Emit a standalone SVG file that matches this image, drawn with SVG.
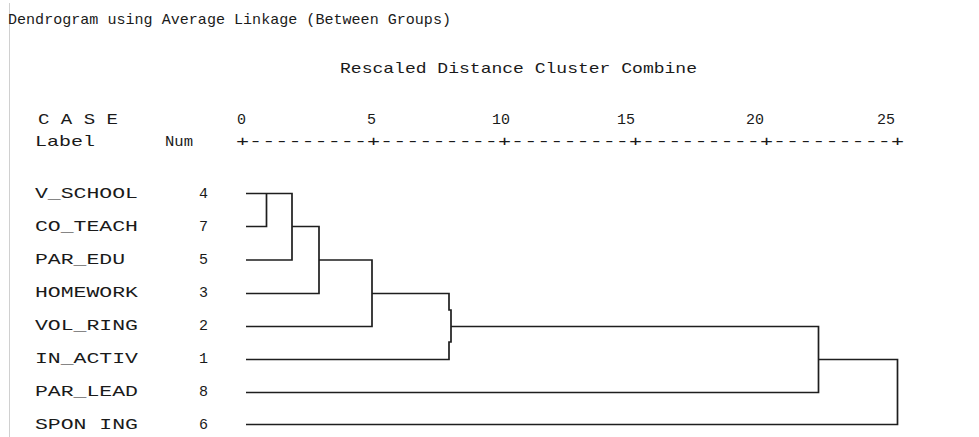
<svg xmlns="http://www.w3.org/2000/svg" width="979" height="437" viewBox="0 0 979 437">
<style>
text{font-family:"Liberation Mono","DejaVu Sans Mono",monospace;font-size:15px;fill:#1a1a1a}
.ln{fill:none;stroke:#1e1e1e;stroke-width:1.7;stroke-linejoin:miter;stroke-linecap:butt}
</style>
<rect x="0" y="0" width="979" height="437" fill="#ffffff"/>
<line x1="9.5" y1="3" x2="9.5" y2="437" stroke="#d0d0d0" stroke-width="1"/>
<g id="header">
<text x="8" y="24" textLength="443" lengthAdjust="spacingAndGlyphs">Dendrogram using Average Linkage (Between Groups)</text>
<text x="340" y="73" textLength="357" lengthAdjust="spacingAndGlyphs">Rescaled Distance Cluster Combine</text>
<text x="38" y="124" textLength="80" lengthAdjust="spacingAndGlyphs">C A S E</text>
<text x="237" y="124">0</text>
<text x="367" y="124">5</text>
<text x="492" y="124" textLength="18" lengthAdjust="spacingAndGlyphs">10</text>
<text x="617" y="124" textLength="18" lengthAdjust="spacingAndGlyphs">15</text>
<text x="746" y="124" textLength="18" lengthAdjust="spacingAndGlyphs">20</text>
<text x="877" y="124" textLength="18" lengthAdjust="spacingAndGlyphs">25</text>
<text x="35" y="146" textLength="60" lengthAdjust="spacingAndGlyphs">Label</text>
<text x="165" y="146" textLength="28" lengthAdjust="spacingAndGlyphs">Num</text>
<text x="236" y="146" textLength="668" lengthAdjust="spacingAndGlyphs">+---------+---------+---------+---------+---------+</text>
</g>
<g id="case4"><text x="35" y="198" textLength="103" lengthAdjust="spacingAndGlyphs">V_SCHOOL</text><text x="199" y="198">4</text></g>
<g id="case7"><text x="35" y="231" textLength="103" lengthAdjust="spacingAndGlyphs">CO_TEACH</text><text x="199" y="231">7</text></g>
<g id="case5"><text x="35" y="264" textLength="90" lengthAdjust="spacingAndGlyphs">PAR_EDU</text><text x="199" y="264">5</text></g>
<g id="case3"><text x="35" y="297" textLength="103" lengthAdjust="spacingAndGlyphs">HOMEWORK</text><text x="199" y="297">3</text></g>
<g id="case2"><text x="35" y="330" textLength="103" lengthAdjust="spacingAndGlyphs">VOL_RING</text><text x="199" y="330">2</text></g>
<g id="case1"><text x="35" y="363" textLength="103" lengthAdjust="spacingAndGlyphs">IN_ACTIV</text><text x="199" y="363">1</text></g>
<g id="case8"><text x="35" y="396" textLength="103" lengthAdjust="spacingAndGlyphs">PAR_LEAD</text><text x="199" y="396">8</text></g>
<g id="case6"><text x="35" y="429" textLength="103" lengthAdjust="spacingAndGlyphs">SPON ING</text><text x="199" y="429">6</text></g>
<g id="connectors">
<path class="ln" d="M246,193.5 H292 V260 H246"/>
<path class="ln" d="M246,226.5 H266.5 V193.5"/>
<path class="ln" d="M292,226.5 H319 V293.5 H246"/>
<path class="ln" d="M319,260 H372 V326.5 H246"/>
<path class="ln" d="M372,293.5 H449 V310 H451 V342 H449 V359.5 H246"/>
<path class="ln" d="M451,326.5 H818.5 V392.5 H246"/>
<path class="ln" d="M818.5,359.5 H897.5 V424.5 H246"/>
</g>
</svg>
